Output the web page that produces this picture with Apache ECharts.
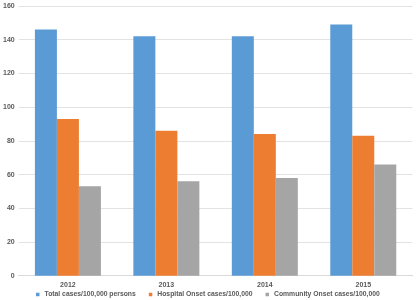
<!DOCTYPE html>
<html>
<head>
<meta charset="utf-8">
<script src="https://cdn.jsdelivr.net/npm/echarts@6/dist/echarts.min.js"></script>
<style>
  html, body { margin: 0; padding: 0; background: #fff; }
  #chart { width: 416px; height: 300px; }
</style>
</head>
<body>
<div id="chart"></div>
<script>
// 資料
const years = ['2012', '2013', '2014', '2015'];
const totalCases = [146, 142, 142, 149];
const hospitalOnset = [93, 86, 84, 83];
const communityOnset = [53, 56, 58, 66];
const seriesNames = [
  'Total cases/100,000 persons',
  'Hospital Onset cases/100,000',
  'Community Onset cases/100,000',
];
const colors = ['#5B9BD5', '#ED7D31', '#A5A5A5'];

const chart = echarts.init(document.getElementById('chart'));

const labelStyle = {
  fontFamily: 'Liberation Sans',
  fontSize: 7,
  fontWeight: 'bold',
  color: '#595959',
};

const makeBar = (name, data) => ({
  name,
  type: 'bar',
  data,
  barWidth: 22,
  barGap: '0%',
});

const option = {
  color: colors,
  animation: false,
  grid: {
    left: 16.5,
    right: 3.5,
    top: 6,
    bottom: 24.3,
  },
  legend: {
    top: 291,
    left: 36,
    padding: 0,
    itemWidth: 3.5,
    itemHeight: 3.5,
    itemGap: 13,
    icon: 'rect',
    textStyle: { ...labelStyle, fontSize: 6.8 },
  },
  xAxis: {
    type: 'category',
    data: years,
    axisTick: { show: false },
    axisLine: { lineStyle: { color: '#d9d9d9', width: 1 } },
    axisLabel: { ...labelStyle, margin: 6 },
  },
  yAxis: {
    type: 'value',
    min: 0,
    max: 160,
    interval: 20,
    axisLine: { show: false },
    axisTick: { show: false },
    splitLine: { lineStyle: { color: '#e3e3e3', width: 1 } },
    axisLabel: { ...labelStyle, margin: 4 },
  },
  series: [
    makeBar(seriesNames[0], totalCases),
    makeBar(seriesNames[1], hospitalOnset),
    makeBar(seriesNames[2], communityOnset),
  ],
};

chart.setOption(option);
</script>
</body>
</html>
